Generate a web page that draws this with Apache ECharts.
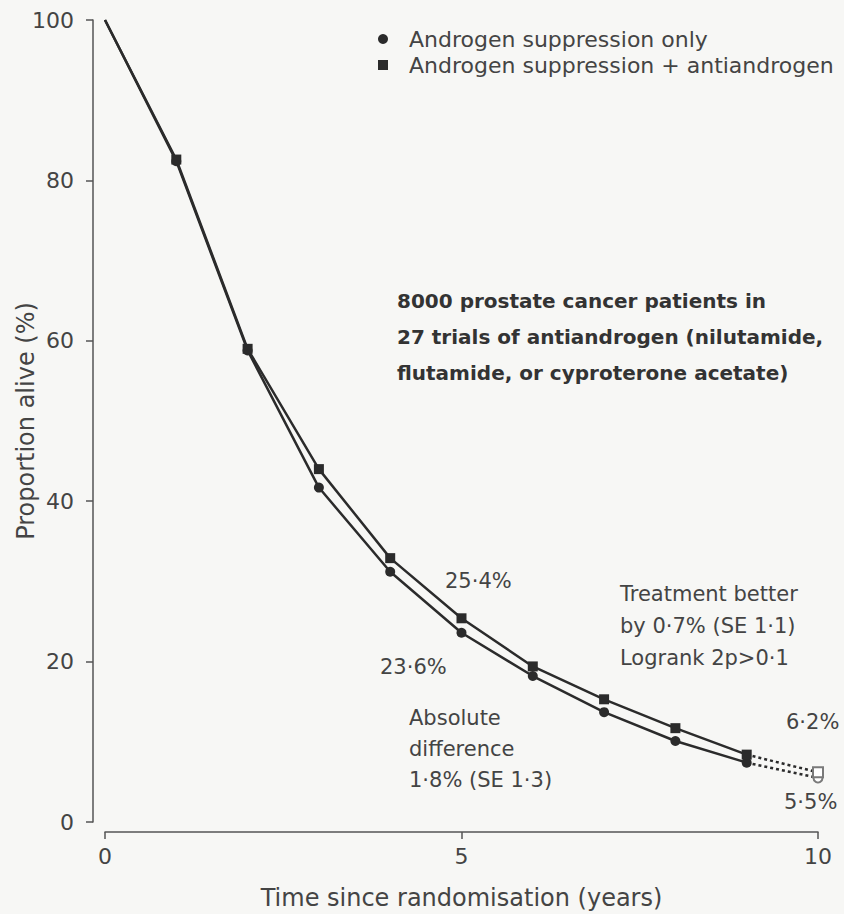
<!DOCTYPE html>
<html>
<head>
<meta charset="utf-8">
<script src="https://cdn.jsdelivr.net/npm/echarts@6/dist/echarts.min.js"></script>
<style>
html,body{margin:0;padding:0;background:#f7f7f5;}
#chart{width:844px;height:914px;}
</style>
</head>
<body>
<div id="chart"></div>
<script>
// ---- data ----
const years = [0, 1, 2, 3, 4, 5, 6, 7, 8, 9, 10];
const suppressionOnly = [100, 82.4, 58.8, 41.7, 31.2, 23.6, 18.2, 13.7, 10.1, 7.4, 5.5];
const suppressionPlusAnti = [100, 82.6, 59.0, 44.0, 32.9, 25.4, 19.4, 15.3, 11.7, 8.4, 6.2];
const seriesNames = ['Androgen suppression only', 'Androgen suppression + antiandrogen'];
const xTicks = [0, 5, 10];
const yTicks = [0, 20, 40, 60, 80, 100];
const xAxisTitle = 'Time since randomisation (years)';
const yAxisTitle = 'Proportion alive (%)';
const boxNote = ['8000 prostate cancer patients in', '27 trials of antiandrogen (nilutamide,', 'flutamide, or cyproterone acetate)'];
const label5yrPlus = '25·4%';
const label5yrOnly = '23·6%';
const treatNote = ['Treatment better', 'by 0·7% (SE 1·1)', 'Logrank 2p>0·1'];
const diffNote = ['Absolute', 'difference', '1·8% (SE 1·3)'];
const label10yrPlus = '6·2%';
const label10yrOnly = '5·5%';
const solidEnd = 9; // last solid index; dashed to 10

const FONT = 'DejaVu Sans';
const INK = '#2b2b2b';
const TXT = '#444';

function pts(arr, from, to, noSymbolFirst) {
  const out = [];
  for (let i = from; i <= to; i++) {
    const d = { value: [years[i], arr[i]] };
    if (i === 0 || (noSymbolFirst && i === from)) d.symbol = 'none';
    out.push(d);
  }
  return out;
}

const chart = echarts.init(document.getElementById('chart'), null, { renderer: 'svg' });

const option = {
  backgroundColor: '#f7f7f5',
  animation: false,
  textStyle: { fontFamily: FONT },
  grid: { left: 105, right: 26, top: 20, bottom: 92, containLabel: false, outerBoundsMode: 'none' },
  legend: {
    orient: 'vertical',
    left: 378,
    top: 28,
    padding: 0,
    itemGap: 4,
    itemWidth: 10,
    itemHeight: 10,
    selectedMode: false,
    data: [
      { name: seriesNames[0], icon: 'circle' },
      { name: seriesNames[1], icon: 'rect' }
    ],
    textStyle: { fontFamily: FONT, fontSize: 22, color: TXT, padding: [0, 0, 0, 16] }
  },
  xAxis: {
    type: 'value',
    min: xTicks[0],
    max: xTicks[xTicks.length - 1],
    interval: 5,
    offset: 10,
    name: xAxisTitle,
    nameLocation: 'middle',
    nameGap: 54,
    nameMoveOverlap: false,
    nameTextStyle: { fontFamily: FONT, fontSize: 24, color: TXT },
    axisLine: { onZero: false, lineStyle: { color: '#555', width: 1.5 } },
    axisTick: { length: 7, lineStyle: { color: '#555', width: 1.5 } },
    axisLabel: { margin: 13, fontFamily: FONT, fontSize: 22, color: TXT },
    splitLine: { show: false }
  },
  yAxis: {
    type: 'value',
    min: yTicks[0],
    max: yTicks[yTicks.length - 1],
    interval: 20,
    offset: 12,
    name: yAxisTitle,
    nameLocation: 'middle',
    nameGap: 55,
    nameRotate: 90,
    nameMoveOverlap: false,
    nameTextStyle: { fontFamily: FONT, fontSize: 24, color: TXT },
    axisLine: { show: true, onZero: false, lineStyle: { color: '#555', width: 1.5 } },
    axisTick: { show: true, length: 7, lineStyle: { color: '#555', width: 1.5 } },
    axisLabel: { margin: 19, fontFamily: FONT, fontSize: 22, color: TXT },
    splitLine: { show: false }
  },
  series: [
    {
      name: seriesNames[0],
      type: 'line',
      data: pts(suppressionOnly, 0, solidEnd),
      symbol: 'circle',
      symbolSize: 10,
      color: INK,
      lineStyle: { color: INK, width: 2.5 },
      itemStyle: { color: INK },
      z: 3
    },
    {
      name: seriesNames[1],
      type: 'line',
      data: pts(suppressionPlusAnti, 0, solidEnd),
      symbol: 'rect',
      symbolSize: 10,
      color: INK,
      lineStyle: { color: INK, width: 2.5 },
      itemStyle: { color: INK },
      z: 3
    },
    {
      name: seriesNames[0] + ' (projected)',
      type: 'line',
      data: pts(suppressionOnly, solidEnd, years.length - 1, true),
      symbol: 'emptyCircle',
      symbolSize: 9,
      lineStyle: { color: INK, width: 2.5, type: [3, 3] },
      itemStyle: { color: '#7a7a7a', borderColor: INK, borderWidth: 2 },
      z: 2
    },
    {
      name: seriesNames[1] + ' (projected)',
      type: 'line',
      data: pts(suppressionPlusAnti, solidEnd, years.length - 1, true),
      symbol: 'emptyRect',
      symbolSize: 10,
      lineStyle: { color: INK, width: 2.5, type: [3, 3] },
      itemStyle: { color: '#7a7a7a', borderColor: INK, borderWidth: 2 },
      z: 2
    }
  ],
  graphic: [
    { type: 'text', left: 397, top: 283, style: { text: boxNote.join('\n'), font: 'bold 20px "' + FONT + '"', fill: '#333', lineHeight: 36 } },
    { type: 'text', left: 445, top: 570, style: { text: label5yrPlus, font: '21px "' + FONT + '"', fill: TXT } },
    { type: 'text', left: 380, top: 656, style: { text: label5yrOnly, font: '21px "' + FONT + '"', fill: TXT } },
    { type: 'text', left: 620, top: 578, style: { text: treatNote.join('\n'), font: '21px "' + FONT + '"', fill: TXT, lineHeight: 32 } },
    { type: 'text', left: 409, top: 702, style: { text: diffNote.join('\n'), font: '21px "' + FONT + '"', fill: TXT, lineHeight: 31 } },
    { type: 'text', left: 786, top: 711, style: { text: label10yrPlus, font: '21px "' + FONT + '"', fill: TXT } },
    { type: 'text', left: 784, top: 791, style: { text: label10yrOnly, font: '21px "' + FONT + '"', fill: TXT } }
  ]
};

chart.setOption(option);
</script>
</body>
</html>
